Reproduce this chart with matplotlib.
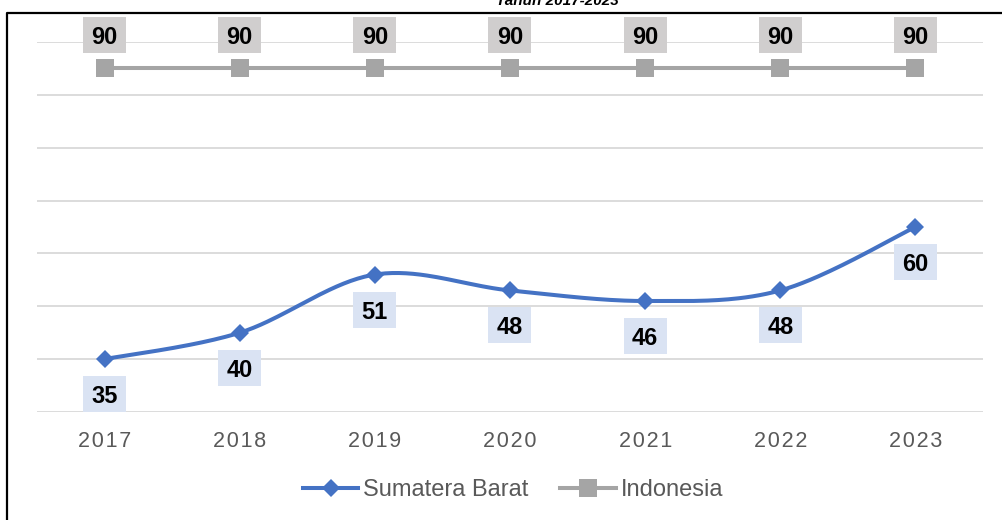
import numpy as np
import matplotlib
matplotlib.use("Agg")
import matplotlib.pyplot as plt
import matplotlib.transforms as mtransforms
from matplotlib.patches import Rectangle
from matplotlib.lines import Line2D

years = ["2017", "2018", "2019", "2020", "2021", "2022", "2023"]
sumbar = [35, 40, 51, 48, 46, 48, 60]
indonesia = [90, 90, 90, 90, 90, 90, 90]
title = "Tahun 2017-2023"

BLUE = "#4472C4"
GREY = "#A5A5A5"
BLUE_BOX = "#DAE3F3"
GREY_BOX = "#D0CECE"

W, H, DPI = 1002, 520, 100
fig = plt.figure(figsize=(W / DPI, H / DPI), dpi=DPI)
plt.rcParams["font.family"] = ["Liberation Sans", "DejaVu Sans"]

ax = fig.add_axes([37 / W, 1 - 412 / H, (983 - 37) / W, (412 - 42) / H])
ax.set_xlim(-0.5, len(years) - 0.5)
ax.set_ylim(25, 95)
ax.set_yticks(np.arange(25, 96, 10))
ax.set_yticklabels([])
ax.tick_params(axis="y", length=0)
ax.tick_params(axis="x", length=0, pad=14, labelsize=15.5, labelcolor="#595959")
ax.set_xticks(range(len(years)))
ax.set_xticklabels(["\u200a".join(y) for y in years])
ax.grid(axis="y", color="#D9D9D9", lw=1.3)
ax.set_axisbelow(True)
for s in ax.spines.values():
    s.set_visible(False)

x = np.arange(len(years), dtype=float)


def smooth(xs, ys, n=40):
    xs = np.asarray(xs, float)
    ys = np.asarray(ys, float)
    px, py = [], []
    m = len(xs)
    for i in range(m - 1):
        p0 = (xs[max(i - 1, 0)], ys[max(i - 1, 0)])
        p1 = (xs[i], ys[i])
        p2 = (xs[i + 1], ys[i + 1])
        p3 = (xs[min(i + 2, m - 1)], ys[min(i + 2, m - 1)])
        c1 = (p1[0] + (p2[0] - p0[0]) / 6, p1[1] + (p2[1] - p0[1]) / 6)
        c2 = (p2[0] - (p3[0] - p1[0]) / 6, p2[1] - (p3[1] - p1[1]) / 6)
        t = np.linspace(0, 1, n)
        bx = (1 - t) ** 3 * p1[0] + 3 * (1 - t) ** 2 * t * c1[0] + 3 * (1 - t) * t ** 2 * c2[0] + t ** 3 * p2[0]
        by = (1 - t) ** 3 * p1[1] + 3 * (1 - t) ** 2 * t * c1[1] + 3 * (1 - t) * t ** 2 * c2[1] + t ** 3 * p2[1]
        px.extend(bx)
        py.extend(by)
    return np.array(px), np.array(py)


sx, sy = smooth(x, sumbar)
ax.plot(sx, sy, color=BLUE, lw=2.9, solid_capstyle="round", zorder=3)
ax.plot(x, sumbar, ls="none", marker="D", ms=8.8, color=BLUE, mew=0, zorder=4)
ax.plot(x, indonesia, color=GREY, lw=2.9, marker="s", ms=12.5, mew=0, zorder=3)


def label(xv, yv, txt, dy_px, bg):
    trans = fig.dpi_scale_trans + mtransforms.ScaledTranslation(xv, yv, ax.transData)
    bw, bh = 43 / DPI, 36 / DPI
    cy = dy_px / DPI
    ax.add_patch(Rectangle((-bw / 2, cy - bh / 2), bw, bh, transform=trans,
                           facecolor=bg, edgecolor="none", zorder=5, clip_on=False))
    ax.text(0, cy, txt, transform=trans, ha="center", va="center_baseline",
            fontsize=17, fontweight="bold", color="black", zorder=6, clip_on=False)


for xi, v in zip(x, sumbar):
    label(xi, v, str(v), -35, BLUE_BOX)
for xi, v in zip(x, indonesia):
    label(xi, v, str(v), 33, GREY_BOX)

h1 = Line2D([], [], color=BLUE, lw=2.9, marker="D", ms=8.8, mew=0)
h2 = Line2D([], [], color=GREY, lw=2.9, marker="s", ms=12.5, mew=0)
fig.legend([h1, h2], ["Sumatera Barat", "Indonesia"], loc="center",
           bbox_to_anchor=(513 / W, 1 - 490 / H), ncol=2, frameon=False,
           fontsize=17, handlelength=2.35, handletextpad=0.2, columnspacing=1.35,
           labelcolor="#595959")

fig.text(557 / W, 1 - 5 / H, title, ha="center", va="baseline",
         fontsize=11, fontweight="bold", fontstyle="italic")

fig.add_artist(Line2D([7 / W, 7 / W, 1.0], [0.0, 1 - 13 / H, 1 - 13 / H],
                      transform=fig.transFigure, color="black", lw=1.6))

fig.savefig("out.png", dpi=DPI)
